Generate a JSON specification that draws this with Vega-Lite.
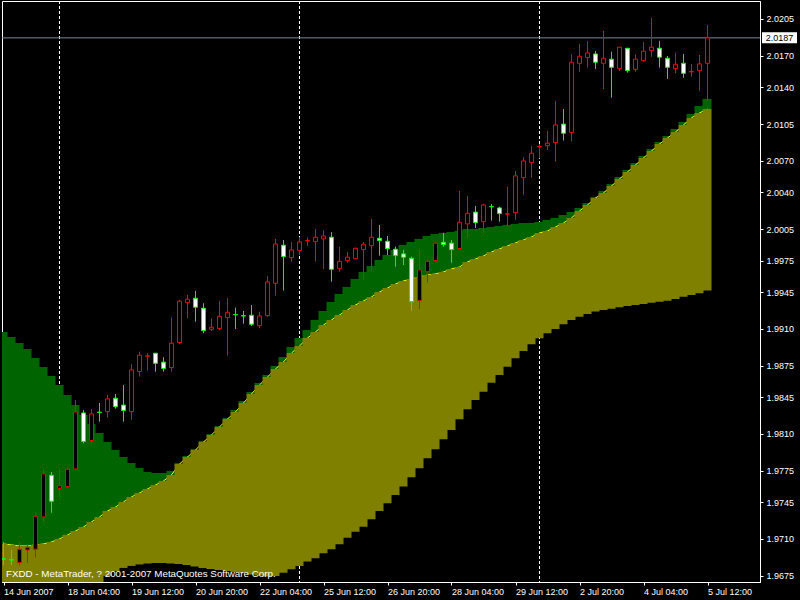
{
"$schema":"https://vega.github.io/schema/vega-lite/v6.json",
"width":758,"height":581,
"autosize":{"type":"none"},
"padding":{"left":2,"top":1,"right":40,"bottom":18},
"background":"black",
"config":{"view":{"stroke":"white","strokeWidth":1},"scale":{"continuousPadding":0},"axis":{"grid":false,"domainColor":"white","tickColor":"white","labelColor":"white","labelFont":"Liberation Sans","labelFontSize":9,"tickSize":3,"domainWidth":1,"tickWidth":1,"labelOverlap":false,"labelFlush":false}},
"datasets":{
"sep":[{"i":7},{"i":37},{"i":67}],
"price":[{"p":2.0187}],
"candles":[
{"i":0,"o":1.96911,"h":1.97071,"l":1.96852,"c":1.96908},
{"i":1,"o":1.96902,"h":1.96995,"l":1.96852,"c":1.96899},
{"i":2,"o":1.96874,"h":1.97068,"l":1.96846,"c":1.97002},
{"i":3,"o":1.96995,"h":1.97052,"l":1.96874,"c":1.97017},
{"i":4,"o":1.97002,"h":1.97354,"l":1.96922,"c":1.97316},
{"i":5,"o":1.97309,"h":1.97766,"l":1.97259,"c":1.97719},
{"i":6,"o":1.97706,"h":1.97738,"l":1.9735,"c":1.97459},
{"i":7,"o":1.97582,"h":1.97766,"l":1.97502,"c":1.97607},
{"i":8,"o":1.97598,"h":1.97782,"l":1.97595,"c":1.97763},
{"i":9,"o":1.97766,"h":1.98423,"l":1.97757,"c":1.98309},
{"i":10,"o":1.98299,"h":1.98328,"l":1.98011,"c":1.98028},
{"i":11,"o":1.98037,"h":1.98337,"l":1.97999,"c":1.9829},
{"i":12,"o":1.98307,"h":1.98394,"l":1.98216,"c":1.98304},
{"i":13,"o":1.98312,"h":1.98473,"l":1.98255,"c":1.98433},
{"i":14,"o":1.98439,"h":1.9848,"l":1.9834,"c":1.98359},
{"i":15,"o":1.98374,"h":1.98566,"l":1.98216,"c":1.98323},
{"i":16,"o":1.98312,"h":1.98766,"l":1.98233,"c":1.98709},
{"i":17,"o":1.98694,"h":1.98883,"l":1.98645,"c":1.98849},
{"i":18,"o":1.9884,"h":1.9887,"l":1.98702,"c":1.98843},
{"i":19,"o":1.98868,"h":1.9887,"l":1.98692,"c":1.98772},
{"i":20,"o":1.98783,"h":1.9883,"l":1.98692,"c":1.98723},
{"i":21,"o":1.98732,"h":1.9921,"l":1.98692,"c":1.98963},
{"i":22,"o":1.98969,"h":1.99375,"l":1.98956,"c":1.99363},
{"i":23,"o":1.99349,"h":1.99423,"l":1.99201,"c":1.99382},
{"i":24,"o":1.99391,"h":1.99461,"l":1.99168,"c":1.99306},
{"i":25,"o":1.99296,"h":1.99344,"l":1.99058,"c":1.99083},
{"i":26,"o":1.99096,"h":1.99201,"l":1.9908,"c":1.99115},
{"i":27,"o":1.99102,"h":1.99366,"l":1.99089,"c":1.9922},
{"i":28,"o":1.99207,"h":1.99394,"l":1.98845,"c":1.99258},
{"i":29,"o":1.99237,"h":1.99302,"l":1.99099,"c":1.99234},
{"i":30,"o":1.99225,"h":1.9927,"l":1.99149,"c":1.99222},
{"i":31,"o":1.99229,"h":1.99327,"l":1.99128,"c":1.99144},
{"i":32,"o":1.9913,"h":1.99264,"l":1.99106,"c":1.99223},
{"i":33,"o":1.99226,"h":1.99604,"l":1.99216,"c":1.99546},
{"i":34,"o":1.99534,"h":1.99956,"l":1.99416,"c":1.99908},
{"i":35,"o":1.99896,"h":1.99946,"l":1.99464,"c":1.99787},
{"i":36,"o":1.99778,"h":1.99927,"l":1.9974,"c":1.99851},
{"i":37,"o":1.99844,"h":1.99972,"l":1.99803,"c":1.99927},
{"i":38,"o":1.99938,"h":1.99972,"l":1.99889,"c":1.99941},
{"i":39,"o":1.9993,"h":2.00051,"l":1.9974,"c":1.99972},
{"i":40,"o":1.99956,"h":2.00041,"l":1.9967,"c":1.99984},
{"i":41,"o":1.99972,"h":2.0002,"l":1.99549,"c":1.99667},
{"i":42,"o":1.99673,"h":1.99882,"l":1.99644,"c":1.99743},
{"i":43,"o":1.99749,"h":1.99832,"l":1.9973,"c":1.99782},
{"i":44,"o":1.99768,"h":1.99873,"l":1.99763,"c":1.99867},
{"i":45,"o":1.99854,"h":1.99927,"l":1.99565,"c":1.99905},
{"i":46,"o":1.99892,"h":2.00146,"l":1.99651,"c":1.99972},
{"i":47,"o":1.99962,"h":2.00089,"l":1.99797,"c":1.9994},
{"i":48,"o":1.99934,"h":1.99984,"l":1.99803,"c":1.99863},
{"i":49,"o":1.99858,"h":1.99882,"l":1.99692,"c":1.99797},
{"i":50,"o":1.99813,"h":1.99851,"l":1.99708,"c":1.99782},
{"i":51,"o":1.99772,"h":1.99787,"l":1.99273,"c":1.99359},
{"i":52,"o":1.99368,"h":1.99851,"l":1.99287,"c":1.99661},
{"i":53,"o":1.99644,"h":1.99763,"l":1.9954,"c":1.99743},
{"i":54,"o":1.99749,"h":1.99927,"l":1.99734,"c":1.99915},
{"i":55,"o":1.99924,"h":2.00013,"l":1.99882,"c":1.99903},
{"i":56,"o":1.99916,"h":1.99946,"l":1.9973,"c":1.99854},
{"i":57,"o":1.99865,"h":2.00413,"l":1.99856,"c":2.00115},
{"i":58,"o":2.00099,"h":2.00365,"l":1.99962,"c":2.002},
{"i":59,"o":2.00211,"h":2.0027,"l":2.0006,"c":2.00111},
{"i":60,"o":2.0012,"h":2.00289,"l":2.0001,"c":2.00279},
{"i":61,"o":2.00265,"h":2.00289,"l":2.0013,"c":2.00262},
{"i":62,"o":2.00251,"h":2.00263,"l":2.0012,"c":2.00197},
{"i":63,"o":2.00192,"h":2.00454,"l":2.0008,"c":2.00195},
{"i":64,"o":2.00206,"h":2.00603,"l":2.00137,"c":2.00556},
{"i":65,"o":2.00539,"h":2.00734,"l":2.00375,"c":2.00698},
{"i":66,"o":2.00682,"h":2.00841,"l":2.00539,"c":2.00772},
{"i":67,"o":2.00833,"h":2.0086,"l":2.00724,"c":2.00836},
{"i":68,"o":2.00844,"h":2.00984,"l":2.00803,"c":2.00867},
{"i":69,"o":2.00873,"h":2.0127,"l":2.00692,"c":2.01041},
{"i":70,"o":2.01049,"h":2.01193,"l":2.00893,"c":2.00962},
{"i":71,"o":2.0097,"h":2.01717,"l":2.00884,"c":2.01638},
{"i":72,"o":2.01628,"h":2.01812,"l":2.01548,"c":2.01695},
{"i":73,"o":2.01682,"h":2.01841,"l":2.01587,"c":2.01726},
{"i":74,"o":2.01717,"h":2.01746,"l":2.01574,"c":2.01638},
{"i":75,"o":2.01628,"h":2.01936,"l":2.01384,"c":2.01676},
{"i":76,"o":2.01667,"h":2.01739,"l":2.01301,"c":2.0159},
{"i":77,"o":2.01577,"h":2.01784,"l":2.01555,"c":2.01781},
{"i":78,"o":2.01771,"h":2.01774,"l":2.01539,"c":2.01558},
{"i":79,"o":2.01571,"h":2.01714,"l":2.01548,"c":2.01667},
{"i":80,"o":2.01653,"h":2.01831,"l":2.01644,"c":2.01743},
{"i":81,"o":2.01748,"h":2.0206,"l":2.01691,"c":2.01781},
{"i":82,"o":2.01771,"h":2.01841,"l":2.01587,"c":2.01686},
{"i":83,"o":2.01676,"h":2.01698,"l":2.01479,"c":2.0159},
{"i":84,"o":2.01577,"h":2.01729,"l":2.01533,"c":2.01619},
{"i":85,"o":2.01628,"h":2.01717,"l":2.01491,"c":2.01533},
{"i":86,"o":2.01547,"h":2.01622,"l":2.01501,"c":2.0155},
{"i":87,"o":2.01558,"h":2.01707,"l":2.01365,"c":2.01622},
{"i":88,"o":2.01628,"h":2.01993,"l":2.01279,"c":2.0187}
],
"ind":[
{"i":0,"m":1.97052,"u":1.9907,"lo":1.9669},
{"i":1,"m":1.97043,"u":1.99023,"lo":1.9669},
{"i":2,"m":1.97033,"u":1.98966,"lo":1.9669},
{"i":3,"m":1.97033,"u":1.98909,"lo":1.9669},
{"i":4,"m":1.97043,"u":1.98823,"lo":1.9669},
{"i":5,"m":1.97052,"u":1.98737,"lo":1.9669},
{"i":6,"m":1.97071,"u":1.98652,"lo":1.9669},
{"i":7,"m":1.971,"u":1.98566,"lo":1.9669},
{"i":8,"m":1.97138,"u":1.98471,"lo":1.9669},
{"i":9,"m":1.97176,"u":1.98375,"lo":1.9669},
{"i":10,"m":1.97214,"u":1.9828,"lo":1.9669},
{"i":11,"m":1.97262,"u":1.98195,"lo":1.9669},
{"i":12,"m":1.97309,"u":1.98109,"lo":1.9669},
{"i":13,"m":1.97366,"u":1.98023,"lo":1.96748},
{"i":14,"m":1.97404,"u":1.97947,"lo":1.96795},
{"i":15,"m":1.97452,"u":1.9788,"lo":1.96824},
{"i":16,"m":1.975,"u":1.97823,"lo":1.96843},
{"i":17,"m":1.97538,"u":1.97776,"lo":1.96857},
{"i":18,"m":1.97576,"u":1.97738,"lo":1.96866},
{"i":19,"m":1.97614,"u":1.97728,"lo":1.96871},
{"i":20,"m":1.97652,"u":1.97728,"lo":1.96871},
{"i":21,"m":1.97709,"u":1.97747,"lo":1.96866},
{"i":22,"m":1.97814,"u":1.97823,"lo":1.96862},
{"i":23,"m":1.9788,"u":1.9789,"lo":1.96852},
{"i":24,"m":1.97947,"u":1.97957,"lo":1.96838},
{"i":25,"m":1.98023,"u":1.98033,"lo":1.96824},
{"i":26,"m":1.9809,"u":1.98099,"lo":1.96814},
{"i":27,"m":1.98166,"u":1.98175,"lo":1.96805},
{"i":28,"m":1.98242,"u":1.98252,"lo":1.96795},
{"i":29,"m":1.98309,"u":1.98328,"lo":1.96786},
{"i":30,"m":1.98394,"u":1.98413,"lo":1.96776},
{"i":31,"m":1.9848,"u":1.98499,"lo":1.96762},
{"i":32,"m":1.98566,"u":1.98585,"lo":1.96752},
{"i":33,"m":1.98642,"u":1.98661,"lo":1.96743},
{"i":34,"m":1.98718,"u":1.98747,"lo":1.96748},
{"i":35,"m":1.98785,"u":1.98832,"lo":1.96779},
{"i":36,"m":1.9887,"u":1.98928,"lo":1.96811},
{"i":37,"m":1.98937,"u":1.99013,"lo":1.96843},
{"i":38,"m":1.99013,"u":1.99089,"lo":1.96884},
{"i":39,"m":1.9907,"u":1.99185,"lo":1.96916},
{"i":40,"m":1.99137,"u":1.9927,"lo":1.96964},
{"i":41,"m":1.99185,"u":1.99356,"lo":1.97002},
{"i":42,"m":1.99232,"u":1.99432,"lo":1.97049},
{"i":43,"m":1.9928,"u":1.99499,"lo":1.97112},
{"i":44,"m":1.99327,"u":1.99575,"lo":1.97169},
{"i":45,"m":1.99366,"u":1.99642,"lo":1.97217},
{"i":46,"m":1.99404,"u":1.99699,"lo":1.97287},
{"i":47,"m":1.99451,"u":1.99756,"lo":1.97366},
{"i":48,"m":1.99489,"u":1.99803,"lo":1.9744},
{"i":49,"m":1.99527,"u":1.99851,"lo":1.97519},
{"i":50,"m":1.99556,"u":1.99899,"lo":1.97598},
{"i":51,"m":1.99575,"u":1.99927,"lo":1.97687},
{"i":52,"m":1.99594,"u":1.99956,"lo":1.97773},
{"i":53,"m":1.99613,"u":1.99984,"lo":1.97868},
{"i":54,"m":1.99623,"u":2.00003,"lo":1.97954},
{"i":55,"m":1.99642,"u":2.00013,"lo":1.98049},
{"i":56,"m":1.9967,"u":2.00022,"lo":1.98137},
{"i":57,"m":1.99689,"u":2.00032,"lo":1.98239},
{"i":58,"m":1.99737,"u":2.00051,"lo":1.98334},
{"i":59,"m":1.99765,"u":2.00051,"lo":1.98423},
{"i":60,"m":1.99794,"u":2.0006,"lo":1.98502},
{"i":61,"m":1.99832,"u":2.0007,"lo":1.98588},
{"i":62,"m":1.99861,"u":2.0008,"lo":1.98661},
{"i":63,"m":1.99889,"u":2.00089,"lo":1.9874},
{"i":64,"m":1.99918,"u":2.00099,"lo":1.9882},
{"i":65,"m":1.99946,"u":2.00108,"lo":1.98889},
{"i":66,"m":1.99975,"u":2.00108,"lo":1.98953},
{"i":67,"m":2.00013,"u":2.00118,"lo":1.9901},
{"i":68,"m":2.00032,"u":2.00137,"lo":1.99058},
{"i":69,"m":2.0007,"u":2.00156,"lo":1.99099},
{"i":70,"m":2.00108,"u":2.00184,"lo":1.99144},
{"i":71,"m":2.00156,"u":2.00213,"lo":1.99185},
{"i":72,"m":2.00222,"u":2.00251,"lo":1.99216},
{"i":73,"m":2.00279,"u":2.00298,"lo":1.99242},
{"i":74,"m":2.00346,"u":2.00356,"lo":1.99264},
{"i":75,"m":2.00394,"u":2.00413,"lo":1.9928},
{"i":76,"m":2.0046,"u":2.00479,"lo":1.99292},
{"i":77,"m":2.00527,"u":2.00546,"lo":1.99306},
{"i":78,"m":2.00594,"u":2.00613,"lo":1.99318},
{"i":79,"m":2.0066,"u":2.00679,"lo":1.99327},
{"i":80,"m":2.00727,"u":2.00746,"lo":1.99337},
{"i":81,"m":2.00793,"u":2.00813,"lo":1.99349},
{"i":82,"m":2.0086,"u":2.00879,"lo":1.99359},
{"i":83,"m":2.00917,"u":2.00936,"lo":1.99368},
{"i":84,"m":2.00974,"u":2.01003,"lo":1.99385},
{"i":85,"m":2.01041,"u":2.0107,"lo":1.99406},
{"i":86,"m":2.01108,"u":2.01146,"lo":1.99423},
{"i":87,"m":2.01155,"u":2.01222,"lo":1.99439},
{"i":88,"m":2.01193,"u":2.01289,"lo":1.99464}
]
},
"layer":[
{"data":{"name":"sep"},"mark":{"type":"rule","color":"white","strokeDash":[3,2],"strokeWidth":1},
 "encoding":{"x":{"field":"i","type":"quantitative","title":null,"scale":{"domain":[-0.1875,94.5625],"nice":false,"zero":false,"padding":0},
  "axis":{"orient":"bottom","values":[0,8,16,24,32,40,48,56,64,72,80,88],"tickCount":40,"labelExpr":"['14 Jun 2007','18 Jun 04:00','19 Jun 12:00','20 Jun 20:00','22 Jun 04:00','25 Jun 12:00','26 Jun 20:00','28 Jun 04:00','29 Jun 12:00','2 Jul 20:00','4 Jul 04:00','5 Jul 12:00'][round(datum.value/8)]","labelAlign":"left","labelBaseline":"top","labelPadding":2,"labelFlush":false,"labelOverlap":false,"title":null}}}},
{"data":{"name":"ind"},"mark":{"type":"bar","color":"#006400","size":9,"xOffset":-0.5,"clip":true},
 "encoding":{"x":{"field":"i","type":"quantitative","title":null,"scale":{"domain":[-0.1875,94.5625],"nice":false,"zero":false,"padding":0}},
  "y":{"field":"m","type":"quantitative","title":null,"scale":{"domain":[1.9669,2.02221],"nice":false,"zero":false,"padding":0},
   "axis":{"orient":"right","values":[2.0205,2.017,2.014,2.0105,2.007,2.004,2.0005,1.9975,1.9945,1.991,1.9875,1.9845,1.981,1.9775,1.9745,1.971,1.9675],"tickCount":40,"format":".4f","labelPadding":3,"labelBaseline":"middle","labelFlush":false,"labelOverlap":false,"title":null}},
  "y2":{"field":"u"}}},
{"data":{"name":"ind"},"mark":{"type":"line","color":"#FFFF00","strokeWidth":1,"clip":true},
 "encoding":{"x":{"field":"i","type":"quantitative","title":null,"scale":{"domain":[-0.1875,94.5625],"nice":false,"zero":false,"padding":0}},
  "y":{"field":"m","type":"quantitative","title":null,"scale":{"domain":[1.9669,2.02221],"nice":false,"zero":false,"padding":0}}}},
{"data":{"name":"ind"},"mark":{"type":"bar","color":"#808000","size":9,"xOffset":-0.5,"clip":true},
 "encoding":{"x":{"field":"i","type":"quantitative","title":null,"scale":{"domain":[-0.1875,94.5625],"nice":false,"zero":false,"padding":0}},
  "y":{"field":"lo","type":"quantitative","title":null,"scale":{"domain":[1.9669,2.02221],"nice":false,"zero":false,"padding":0}},
  "y2":{"field":"m"}}},
{"data":{"name":"price"},"mark":{"type":"rule","color":"#778899","strokeWidth":1},
 "encoding":{"y":{"field":"p","type":"quantitative","title":null,"scale":{"domain":[1.9669,2.02221],"nice":false,"zero":false,"padding":0}}}},
{"data":{"name":"candles"},"mark":{"type":"rule","strokeWidth":1,"clip":true},
 "encoding":{"x":{"field":"i","type":"quantitative","title":null,"scale":{"domain":[-0.1875,94.5625],"nice":false,"zero":false,"padding":0}},
  "y":{"field":"l","type":"quantitative","title":null,"scale":{"domain":[1.9669,2.02221],"nice":false,"zero":false,"padding":0}},
  "y2":{"field":"h"},
  "color":{"condition":{"test":"datum.c > datum.o","value":"#FF0000"},"value":"#00FF00"}}},
{"data":{"name":"candles"},"mark":{"type":"bar","size":4,"strokeWidth":1,"clip":true},
 "encoding":{"x":{"field":"i","type":"quantitative","title":null,"scale":{"domain":[-0.1875,94.5625],"nice":false,"zero":false,"padding":0}},
  "y":{"field":"o","type":"quantitative","title":null,"scale":{"domain":[1.9669,2.02221],"nice":false,"zero":false,"padding":0}},
  "y2":{"field":"c"},
  "fill":{"condition":{"test":"datum.c > datum.o","value":"#000000"},"value":"#FFFFFF"},
  "stroke":{"condition":{"test":"datum.c > datum.o","value":"#FF0000"},"value":"#00FF00"}}},
{"data":{"values":[{}]},"mark":{"type":"text","align":"left","baseline":"alphabetic","color":"white","font":"Liberation Sans","fontSize":9.8,"text":"FXDD - MetaTrader, ? 2001-2007 MetaQuotes Software Corp."},
 "encoding":{"x":{"datum":0.31,"type":"quantitative","title":null,"scale":{"domain":[-0.1875,94.5625],"nice":false,"zero":false,"padding":0}},
  "y":{"datum":1.96735,"type":"quantitative","title":null,"scale":{"domain":[1.9669,2.02221],"nice":false,"zero":false,"padding":0}}}},
{"data":{"values":[{}]},"mark":{"type":"rect","color":"white"},
 "encoding":{"x":{"datum":94.81,"type":"quantitative","title":null,"scale":{"domain":[-0.1875,94.5625],"nice":false,"zero":false,"padding":0}},
  "x2":{"datum":99.19},
  "y":{"datum":2.019235,"type":"quantitative","title":null,"scale":{"domain":[1.9669,2.02221],"nice":false,"zero":false,"padding":0}},
  "y2":{"datum":2.018188}}},
{"data":{"values":[{}]},"mark":{"type":"text","align":"center","baseline":"middle","color":"black","font":"Liberation Sans","fontSize":9,"text":"2.0187"},
 "encoding":{"x":{"datum":97.0,"type":"quantitative","title":null,"scale":{"domain":[-0.1875,94.5625],"nice":false,"zero":false,"padding":0}},
  "y":{"datum":2.0187,"type":"quantitative","title":null,"scale":{"domain":[1.9669,2.02221],"nice":false,"zero":false,"padding":0}}}}
]
}
